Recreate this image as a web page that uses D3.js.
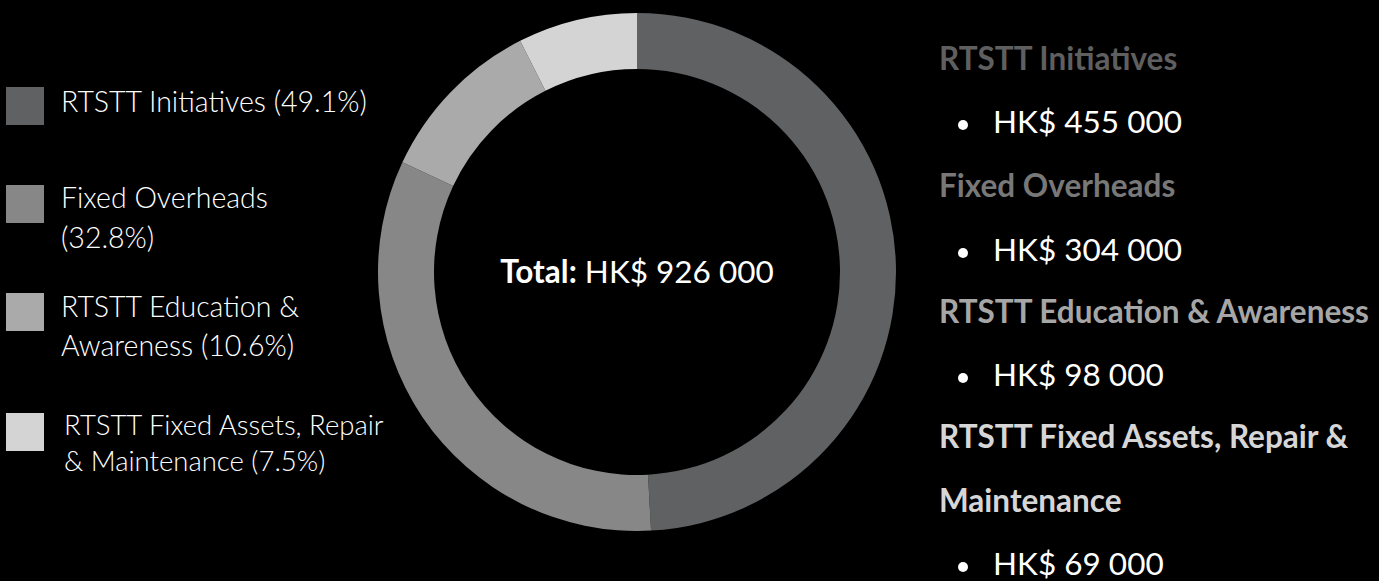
<!DOCTYPE html>
<html><head><meta charset="utf-8">
<script src="https://cdn.jsdelivr.net/npm/d3@7"></script>
<style>
html,body{margin:0;padding:0;background:#000;}
svg{display:block;}
text{font-family:Lato,"Noto Sans",sans-serif;}
</style></head>
<body><svg id="c" width="1379" height="581"></svg>
<script>
const categories = ["RTSTT Initiatives","Fixed Overheads","RTSTT Education & Awareness","RTSTT Fixed Assets, Repair & Maintenance"];
const values = [455000, 304000, 98000, 69000];
const percents = ["49.1%","32.8%","10.6%","7.5%"];
const colors = ["#606162","#878787","#aaaaaa","#d4d4d4"];
const headColors = ["#5f5f5f","#787878","#a6a6a6","#d6d6d6"];
const legendLines = [["RTSTT Initiatives (49.1%)"],["Fixed Overheads","(32.8%)"],["RTSTT Education &","Awareness (10.6%)"],["RTSTT Fixed Assets, Repair","& Maintenance (7.5%)"]];
const valueLabels = ["HK$ 455 000","HK$ 304 000","HK$ 98 000","HK$ 69 000"];
const headLines = [["RTSTT Initiatives"],["Fixed Overheads"],["RTSTT Education & Awareness"],["RTSTT Fixed Assets, Repair &","Maintenance"]];
const totalLabel = "HK$ 926 000";

const svg = d3.select("#c");
const cx = 637, cy = 272, R = 259, r = 203;
const pie = d3.pie().sort(null).value(d=>d);
const arc = d3.arc().innerRadius(r).outerRadius(R);
const g = svg.append("g").attr("transform",`translate(${cx},${cy})`);
g.selectAll("path").data(pie(values)).join("path").attr("d",arc).attr("fill",(d,i)=>colors[i]);

const tot = g.append("text").attr("text-anchor","middle").attr("y",11).attr("fill","#fff").style("font-size","31.5px");
tot.append("tspan").attr("font-weight","bold").text("Total:");
tot.append("tspan").text(" "+totalLabel);

// legend
const legY = [87,185,293,413];
const legBase = [[112],[208,248],[317,356],[435,471]];
const legX = [61,61,61,64];
const legFs = [28.5,28.5,28.5,27.5];
categories.forEach((c,i)=>{
  svg.append("rect").attr("x",6).attr("y",legY[i]).attr("width",38).attr("height",38).attr("fill",colors[i]);
  legendLines[i].forEach((l,j)=>{
    svg.append("text").attr("x",legX[i]).attr("y",legBase[i][j]).attr("fill","#fff").attr("font-weight",300).style("font-size",legFs[i]+"px").text(l);
  });
});

// right list
const headBase = [[70],[197],[323],[448,512]];
const valBase = [133,261,386,575];
categories.forEach((c,i)=>{
  headLines[i].forEach((l,j)=>{
    svg.append("text").attr("x",939).attr("y",headBase[i][j]).attr("fill",headColors[i]).attr("font-weight","bold").style("font-size","31.5px").text(l);
  });
  svg.append("circle").attr("cx",963).attr("cy",valBase[i]-8).attr("r",5).attr("fill","#fff");
  svg.append("text").attr("x",993).attr("y",valBase[i]).attr("fill","#fff").style("font-size","31.5px").text(valueLabels[i]);
});
</script></body></html>
